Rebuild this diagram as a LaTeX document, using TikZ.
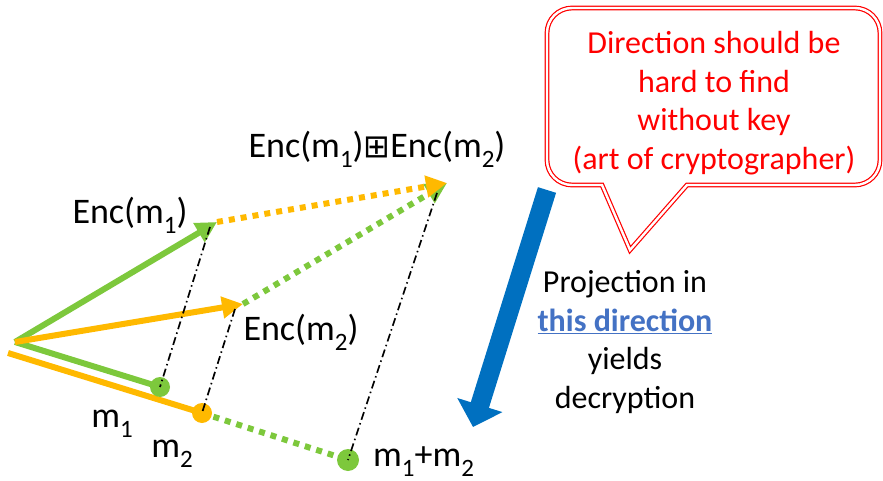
\documentclass[tikz,border=0pt]{standalone}
\usepackage{fontspec}
\setmainfont{Carlito}
\newfontfamily\symfont{DejaVu Sans}
\usetikzlibrary{arrows.meta}
\definecolor{vgreen}{RGB}{125,200,60}
\definecolor{vorange}{RGB}{255,185,0}
\definecolor{projblue}{RGB}{0,112,192}
\definecolor{linkblue}{RGB}{68,114,196}
\definecolor{callred}{RGB}{255,0,0}
\newcommand{\lowsub}[1]{\raisebox{-10pt}{\fontsize{25}{25}\selectfont #1}}
\begin{document}
\begin{tikzpicture}[x=1pt,y=-1pt,
  lbl/.style={font=\fontsize{32}{38.5}\selectfont, inner sep=0pt},
  vlbl/.style={font=\fontsize{36}{40}\selectfont, inner sep=0pt},
  vec/.style={line width=6pt},
  vecarrow/.style={vec, -{Triangle[length=21pt,width=21pt]}},
  sqdots/.style={line width=6pt, dash pattern=on 6pt off 6pt},
  proj/.style={line width=1.7pt, dash pattern=on 8pt off 3.5pt on 1.5pt off 3.5pt},
  dot/.style={circle, minimum size=20pt, inner sep=0pt},
  callout/.style={draw=callred, line width=1.2pt, double=white, double distance=2.4pt, fill=white}
]
\useasboundingbox (0,0) rectangle (883,481);

% points
\coordinate (O) at (15,342);
\coordinate (O2) at (8,353);
\coordinate (E1) at (217,222);
\coordinate (E2) at (243,304);
\coordinate (S) at (447,183);
\coordinate (P1) at (210,227);
\coordinate (P2) at (235,309);
\coordinate (P3) at (437,193);
\coordinate (B1) at (547,190);
\coordinate (B2) at (473,427);

% plaintext lines
\draw[vec, vorange] (O2) -- (202,413) coordinate (M2c);
\draw[vec, vgreen] (O) -- (160,387) coordinate (M1c);
\draw[sqdots, vgreen] (M2c) -- (348,460) coordinate (M12c);

% encryption vectors
\draw[vecarrow, vgreen] (O) -- (E1);
\draw[vecarrow, vorange] (O) -- (E2);
\draw[sqdots, vgreen, -{Triangle[length=21pt,width=21pt]}] (E2) -- (S);
\draw[sqdots, vorange, -{Triangle[length=21pt,width=21pt]}] (E1) -- (S);

% dots
\node[dot, fill=vgreen] (M1) at (M1c) {};
\node[dot, fill=vorange] (M2) at (M2c) {};
\node[dot, fill=vgreen, minimum size=22pt] (M12) at (M12c) {};

% projection lines
\draw[proj] (P1) -- (M1.center);
\draw[proj] (P2) -- (M2.center);
\draw[proj] (P3) -- (M12.center);

% labels
\node[vlbl, anchor=base] (lE1) at (130,223) {Enc(m\lowsub{1})};
\node[vlbl, anchor=base] (lE2) at (301,340) {Enc(m\lowsub{2})};
\node[vlbl, anchor=base] (lm1) at (112,427) {m\lowsub{1}};
\node[vlbl, anchor=base] (lm2) at (172,457) {m\lowsub{2}};
\node[vlbl, anchor=base west] (lm12) at (373,466) {m\lowsub{1}+m\lowsub{2}};
\node[vlbl, anchor=base] (lS) at (377,158) {Enc(m\lowsub{1}){\symfont\fontsize{32}{32}\selectfont ⊞}Enc(m\lowsub{2})};

% projection arrow
\draw[projblue, line width=19pt, -{Triangle[length=23pt,width=46pt]}] (B1) -- (B2);
\node[lbl, align=center] (lproj) at (625,342) {Projection in\\
  {\bfseries\color{linkblue}\underline{this direction}}\\ yields\\ decryption};

% callout
\draw[callout] (687,185) -- (855,185) arc[start angle=90, end angle=0, radius=25]
  -- (880,33) arc[start angle=0, end angle=-90, radius=25]
  -- (572,8) arc[start angle=-90, end angle=-180, radius=25]
  -- (547,160) arc[start angle=180, end angle=90, radius=25]
  -- (602,185) -- (630,250) -- cycle;
\node[lbl, align=center, text=callred] (lcall) at (714,103) {Direction should be\\ hard to find\\ without key\\ (art of cryptographer)};
\end{tikzpicture}
\end{document}
